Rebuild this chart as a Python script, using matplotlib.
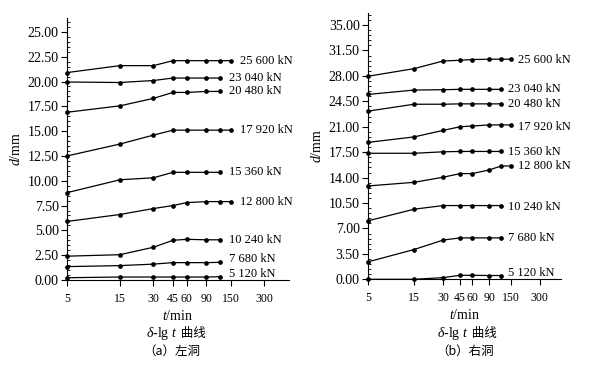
import matplotlib
matplotlib.use("Agg")
import matplotlib.pyplot as plt
from matplotlib.ticker import FixedLocator, MultipleLocator, FormatStrFormatter, NullLocator

plt.rcParams['font.family'] = ['Liberation Serif', 'Noto Sans CJK SC']
plt.rcParams['mathtext.fontset'] = 'custom'
plt.rcParams['mathtext.rm'] = 'Liberation Serif'
plt.rcParams['mathtext.it'] = 'Liberation Serif:italic'

# ---------------- data ----------------
times = [5, 15, 30, 45, 60, 90, 120, 150]
loads = ["25 600 kN", "23 040 kN", "20 480 kN", "17 920 kN", "15 360 kN",
         "12 800 kN", "10 240 kN", "7 680 kN", "5 120 kN"]

left_25600 = [20.9, 21.6, 21.6, 22.1, 22.1, 22.1, 22.1, 22.1]
left_23040 = [19.95, 19.9, 20.1, 20.35, 20.35, 20.35, 20.35]
left_20480 = [16.9, 17.55, 18.3, 18.9, 18.9, 19.0, 19.0]
left_17920 = [12.5, 13.7, 14.6, 15.1, 15.1, 15.1, 15.1, 15.1]
left_15360 = [8.8, 10.1, 10.3, 10.85, 10.85, 10.85, 10.85]
left_12800 = [5.9, 6.6, 7.2, 7.5, 7.8, 7.9, 7.9, 7.9]
left_10240 = [2.4, 2.55, 3.3, 4.0, 4.1, 4.05, 4.05]
left_7680 = [1.35, 1.45, 1.6, 1.75, 1.75, 1.75, 1.78]
left_5120 = [0.23, 0.3, 0.3, 0.3, 0.3, 0.3, 0.33]

right_25600 = [27.95, 29.0, 30.05, 30.15, 30.25, 30.3, 30.3, 30.3]
right_23040 = [25.45, 26.05, 26.1, 26.15, 26.15, 26.15, 26.15]
right_20480 = [23.15, 24.1, 24.1, 24.15, 24.15, 24.15, 24.15]
right_17920 = [18.85, 19.6, 20.5, 21.0, 21.1, 21.25, 21.25, 21.25]
right_15360 = [17.35, 17.35, 17.55, 17.6, 17.6, 17.6, 17.6]
right_12800 = [12.85, 13.35, 14.05, 14.55, 14.55, 15.05, 15.6, 15.6]
right_10240 = [8.05, 9.65, 10.15, 10.15, 10.15, 10.15, 10.15]
right_7680 = [2.4, 4.1, 5.4, 5.7, 5.7, 5.7, 5.7]
right_5120 = [0.0, 0.0, 0.23, 0.55, 0.55, 0.52, 0.52]

left_series = [left_25600, left_23040, left_20480, left_17920, left_15360,
               left_12800, left_10240, left_7680, left_5120]
right_series = [right_25600, right_23040, right_20480, right_17920, right_15360,
                right_12800, right_10240, right_7680, right_5120]

xticks = [5, 15, 30, 45, 60, 90, 150, 300]
left_yticks = [0, 2.5, 5, 7.5, 10, 12.5, 15, 17.5, 20, 22.5, 25]
right_yticks = [0, 3.5, 7, 10.5, 14, 17.5, 21, 24.5, 28, 31.5, 35]

# label styling offsets (pixels)
left_label_dy = [0, 0, 0, 0, 0, 0, 0, 3, 3]
right_label_dy = [-1, 0, 0, -2, -1, 0, -1, 0, 3]

fig = plt.figure(figsize=(5.96, 3.69), dpi=100)

def make_panel(rect, series, yticks, ymax, minor, dx, dys):
    ax = fig.add_axes(rect)
    for vals, lab, dy in zip(series, loads, dys):
        t = times[:len(vals)]
        ax.plot(t, vals, color='black', lw=0.9, marker='o', ms=3.4,
                markerfacecolor='black', markeredgewidth=0, clip_on=False)
        ax.annotate(lab, xy=(t[-1], vals[-1]), xytext=(dx, dy),
                    textcoords='offset pixels', ha='left', va='center',
                    fontsize=9, annotation_clip=False)
    ax.set_xscale('log')
    ax.set_xlim(5, 500)
    ax.set_ylim(0, ymax)
    ax.xaxis.set_major_locator(FixedLocator(xticks))
    ax.xaxis.set_minor_locator(NullLocator())
    ax.set_xticklabels([str(v) for v in xticks])
    ax.yaxis.set_major_locator(FixedLocator(yticks))
    ax.yaxis.set_minor_locator(MultipleLocator(minor))
    ax.yaxis.set_major_formatter(FormatStrFormatter('%.2f'))
    for s in ['top', 'right']:
        ax.spines[s].set_visible(False)
    for s in ['left', 'bottom']:
        ax.spines[s].set_linewidth(0.8)
    ax.tick_params(axis='y', which='major', labelsize=10, length=4,
                   width=0.8, direction='out', pad=2)
    ax.tick_params(axis='x', which='major', labelsize=8.5, length=4,
                   width=0.8, direction='out', pad=5)
    ax.tick_params(axis='y', which='minor', length=2.5, width=0.6, direction='in')
    ax.set_xlabel('$t$/min', fontsize=10, labelpad=3)
    ax.set_ylabel('$d$/mm', fontsize=10, labelpad=3)
    return ax

ax1 = make_panel([67/596, 1-280/369, 222/596, 262/369], left_series,
                 left_yticks, 26.4, 0.5, 9, left_label_dy)
ax2 = make_panel([368/596, 1-279.3/369, 193/596, 266.6/369], right_series,
                 right_yticks, 36.7, 0.7, 7, right_label_dy)

fig.canvas.draw()
renderer = fig.canvas.get_renderer()

def caption(xc_px, y_px):
    y = 1 - y_px/369
    t1 = fig.text(0, y, r'$\delta$-lg $t$', fontsize=10, va='center', ha='left')
    t2 = fig.text(0, y, ' 曲线', fontsize=9, va='center', ha='left',
                  family=['Noto Sans CJK SC'])
    w1 = t1.get_window_extent(renderer).width
    w2 = t2.get_window_extent(renderer).width
    x0 = xc_px - (w1 + w2) / 2
    t1.set_x(x0/596)
    t2.set_x((x0 + w1)/596)

caption(176, 333)
caption(467, 333)
fig.text(172/596, 1-351/369, '（a）左洞', fontsize=9, ha='center', va='center',
         family=['Noto Sans CJK SC'])
fig.text(465/596, 1-351/369, '（b）右洞', fontsize=9, ha='center', va='center',
         family=['Noto Sans CJK SC'])

fig.savefig('out.png', dpi=100)
